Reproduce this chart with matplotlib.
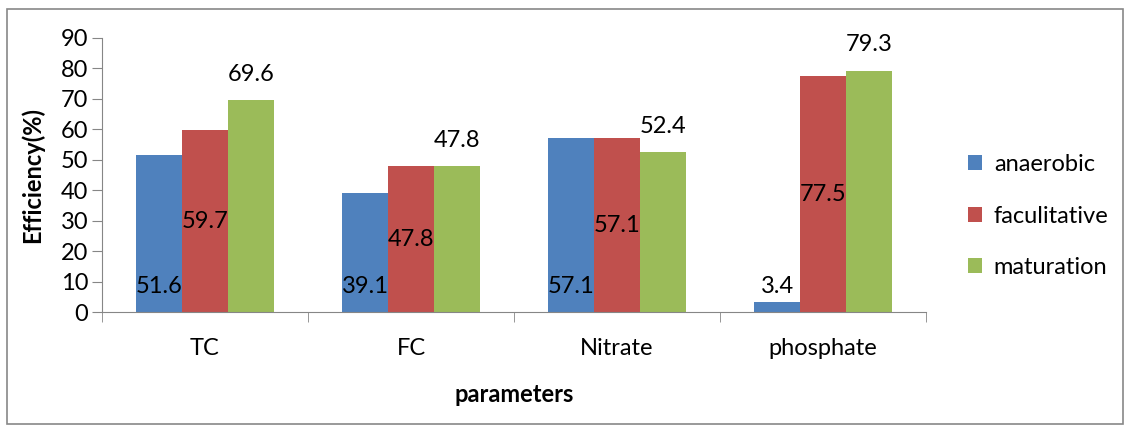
import matplotlib
matplotlib.use('Agg')
import numpy as np
import matplotlib.pyplot as plt
from matplotlib.patches import Rectangle

categories = ['TC', 'FC', 'Nitrate', 'phosphate']
anaerobic = [51.6, 39.1, 57.1, 3.4]
faculitative = [59.7, 47.8, 57.1, 77.5]
maturation = [69.6, 47.8, 52.4, 79.3]
series_names = ['anaerobic', 'faculitative', 'maturation']
colors = ['#4F81BD', '#C0504D', '#9BBB59']
yticks = [0, 10, 20, 30, 40, 50, 60, 70, 80, 90]

plt.rcParams['font.family'] = ['Lato', 'DejaVu Sans']
axis_gray = '#868686'
fs = 17

fig = plt.figure(figsize=(11.25, 4.26), dpi=100)
ax = fig.add_axes([0.0907, 0.2676, 0.7324, 0.6432])

x = np.arange(len(categories))
w = 1 / 4.5
bars = []
for i, vals in enumerate([anaerobic, faculitative, maturation]):
    b = ax.bar(x + (i - 1) * w, vals, w, color=colors[i], label=series_names[i])
    bars.append(b)

# labels: inside base / center / outside end (Excel style)
for rect, v in zip(bars[0], anaerobic):
    ax.annotate(f'{v}', (rect.get_x() + rect.get_width() / 2, 0),
                xytext=(0, 11), textcoords='offset points',
                ha='center', va='bottom', fontsize=fs)
for rect, v in zip(bars[1], faculitative):
    ax.annotate(f'{v}', (rect.get_x() + rect.get_width() / 2, v / 2),
                ha='center', va='center', fontsize=fs)
for rect, v in zip(bars[2], maturation):
    ax.annotate(f'{v}', (rect.get_x() + rect.get_width() / 2, v),
                xytext=(0, 11), textcoords='offset points',
                ha='center', va='bottom', fontsize=fs)

ax.set_xlim(-0.5, len(categories) - 0.5)
ax.set_ylim(0, 90)
ax.set_yticks(yticks)
ax.set_xticks(x)
ax.set_xticklabels(categories)
ax.set_xticks(np.arange(len(categories) + 1) - 0.5, minor=True)
ax.tick_params(axis='x', which='major', length=0, pad=19, labelsize=fs)
ax.tick_params(axis='x', which='minor', length=7, color=axis_gray, direction='out')
ax.tick_params(axis='y', length=7, color=axis_gray, labelsize=fs, pad=3)

for s in ['top', 'right']:
    ax.spines[s].set_visible(False)
for s in ['left', 'bottom']:
    ax.spines[s].set_color(axis_gray)

ax.set_ylabel('Efficiency(%)', fontsize=fs, fontweight='bold', labelpad=12)
ax.set_xlabel('parameters', fontsize=fs, fontweight='bold', labelpad=17)

leg = ax.legend(loc='center left', bbox_to_anchor=(1.025, 0.35), frameon=False,
                fontsize=fs, handlelength=0.6, handleheight=0.6,
                labelspacing=1.3, handletextpad=0.5)

fig.patches.append(Rectangle((0.006, 0.005), 0.992, 0.975, transform=fig.transFigure,
                             fill=False, edgecolor='#888888', linewidth=1.2))

fig.savefig('out.png', dpi=100)
